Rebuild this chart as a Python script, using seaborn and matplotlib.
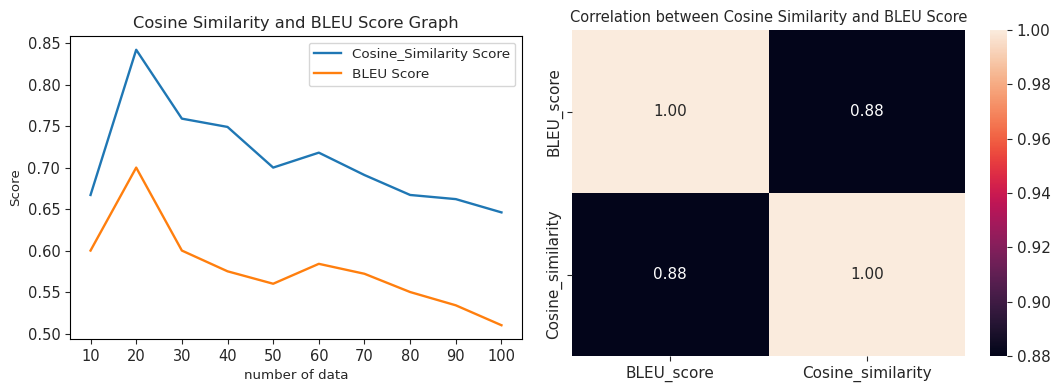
import numpy as np
import pandas as pd
import matplotlib
matplotlib.use("Agg")
import matplotlib.pyplot as plt
import seaborn as sns

# Scores by number of data
n_data = [10, 20, 30, 40, 50, 60, 70, 80, 90, 100]
cosine_scores = [0.667, 0.842, 0.759, 0.749, 0.700, 0.718, 0.691, 0.667, 0.662, 0.646]
bleu_scores = [0.600, 0.700, 0.600, 0.575, 0.560, 0.584, 0.572, 0.550, 0.534, 0.510]

# Correlation matrix
corr_labels = ["BLEU_score", "Cosine_similarity"]
corr_values = [[1.00, 0.88], [0.88, 1.00]]

plt.rcParams["font.family"] = ["DejaVu Sans"]
plt.rcParams["text.color"] = "#262626"
plt.rcParams["axes.labelcolor"] = "#262626"
plt.rcParams["xtick.color"] = "#262626"
plt.rcParams["ytick.color"] = "#262626"

fig = plt.figure(figsize=(10.62, 3.86), dpi=100)

# Line chart
ax1 = fig.add_axes([70 / 1062, 1 - 339 / 386, (522 - 70) / 1062, (339 - 36) / 386])
df = pd.DataFrame({
    "n": n_data * 2,
    "score": cosine_scores + bleu_scores,
    "series": ["Cosine_Similarity Score"] * len(n_data) + ["BLEU Score"] * len(n_data),
})
sns.lineplot(data=df, x="n", y="score", hue="series",
             palette=["#1f77b4", "#ff7f0e"], ax=ax1, linewidth=1.7)
ax1.set_xticks(n_data)
ax1.set_yticks([0.50, 0.55, 0.60, 0.65, 0.70, 0.75, 0.80, 0.85])
ax1.tick_params(labelsize=10.5)
ax1.set_xlabel("number of data", fontsize=9.6)
ax1.set_ylabel("Score", fontsize=9.6)
ax1.set_title("Cosine Similarity and BLEU Score Graph", fontsize=11.7)
leg = ax1.legend(loc="upper right", fontsize=9.7)
leg.set_title(None)

# Correlation heatmap
ax2 = fig.add_axes([572 / 1062, 1 - 356 / 386, (965 - 572) / 1062, (356 - 30) / 386])
cax = fig.add_axes([990 / 1062, 1 - 356 / 386, (1007 - 990) / 1062, (356 - 30) / 386])
corr_df = pd.DataFrame(corr_values, index=corr_labels, columns=corr_labels)
sns.heatmap(corr_df, annot=True, fmt=".2f", ax=ax2, cbar_ax=cax,
            vmin=0.88, vmax=1.00, annot_kws={"fontsize": 11})
ax2.set_title("Correlation between Cosine Similarity and BLEU Score", fontsize=10.5)
ax2.tick_params(labelsize=11)
cax.tick_params(labelsize=11)
cax.set_yticks([0.88, 0.90, 0.92, 0.94, 0.96, 0.98, 1.00])

fig.savefig("out.png", dpi=100)
